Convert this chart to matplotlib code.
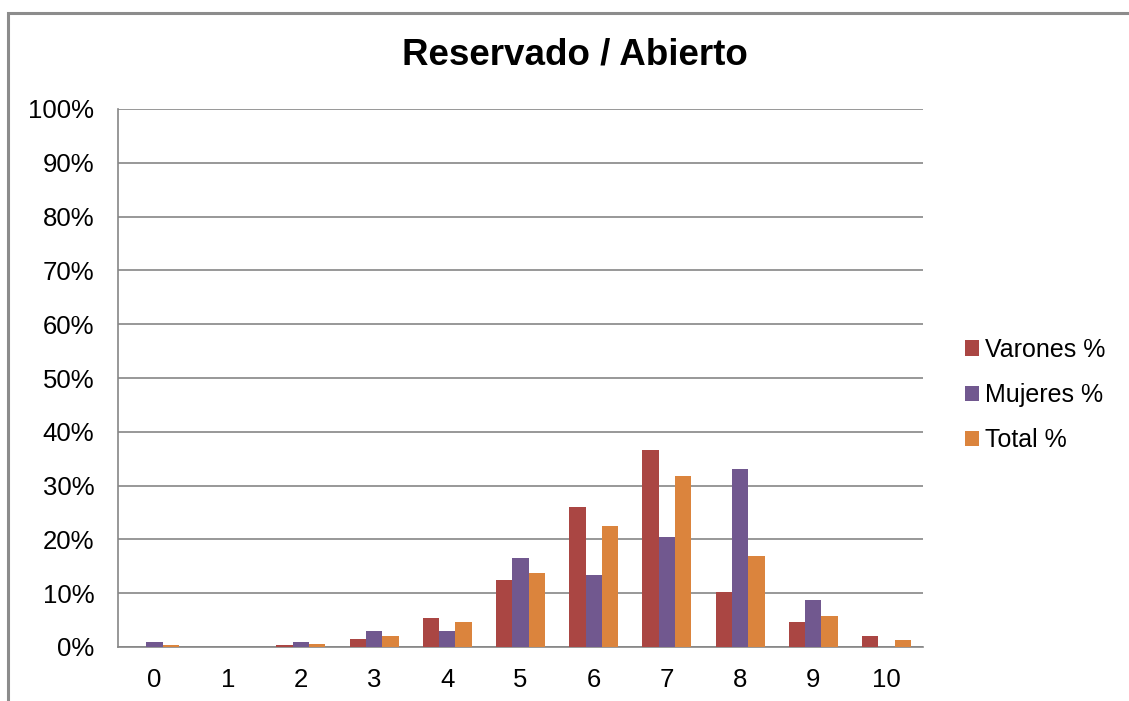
import matplotlib
matplotlib.use("Agg")
import matplotlib.pyplot as plt
import numpy as np
from matplotlib.patches import Rectangle, Patch
from matplotlib.ticker import FuncFormatter

categories = ["0", "1", "2", "3", "4", "5", "6", "7", "8", "9", "10"]
varones = [0.0, 0.0, 0.3, 1.5, 5.3, 12.5, 26.1, 36.6, 10.3, 4.6, 2.0]
mujeres = [0.85, 0.0, 0.85, 2.95, 2.95, 16.5, 13.4, 20.4, 33.0, 8.7, 0.0]
total = [0.3, 0.0, 0.55, 2.0, 4.6, 13.7, 22.5, 31.8, 17.0, 5.8, 1.25]
series_names = ["Varones %", "Mujeres %", "Total %"]
colors = ["#AA4643", "#71588F", "#DB843D"]

plt.rcParams["font.family"] = ["Liberation Sans", "DejaVu Sans"]

W, H = 1129, 701
fig = plt.figure(figsize=(W / 100, H / 100), dpi=100)
fig.patch.set_facecolor("white")

# outer chart border
fig.patches.append(Rectangle((8 / W, -0.1), 1.2, 1 + 0.1 - 13 / H,
                             transform=fig.transFigure, fill=False,
                             edgecolor="#8c8c8c", linewidth=2.2))

ax = fig.add_axes([118 / W, (H - 647) / H, 805 / W, 538 / H])
x = np.arange(len(categories))
bw = 0.223
for i, (vals, c, name) in enumerate(zip([varones, mujeres, total], colors, series_names)):
    ax.bar(x + (i - 1) * bw, vals, width=bw, color=c, label=name, zorder=3)

ax.set_xlim(-0.5, len(categories) - 0.5)
ax.set_ylim(0, 100)
ax.set_yticks(np.arange(0, 101, 10))
ax.yaxis.set_major_formatter(FuncFormatter(lambda v, p: f"{v:.0f}%"))
ax.set_xticks(x)
ax.set_xticklabels(categories)
ax.tick_params(axis="both", length=0, labelsize=18.5, colors="black")
ax.tick_params(axis="x", pad=15)
ax.tick_params(axis="y", pad=17)
ax.grid(axis="y", color="#868686", linewidth=1.2, zorder=0)
for s in ["top", "right"]:
    ax.spines[s].set_visible(False)
for s in ["left", "bottom"]:
    ax.spines[s].set_color("#868686")
    ax.spines[s].set_linewidth(1.2)

fig.text(575 / W, 1 - 55 / H, "Reservado / Abierto", ha="center", va="center",
         fontsize=26.5, fontweight="bold")

handles = [Patch(facecolor=c, edgecolor="none") for c in colors]
fig.legend(handles, series_names, loc="center left",
           bbox_to_anchor=(942 / W, 1 - 395 / H), frameon=False,
           fontsize=18, handlelength=0.56, handleheight=0.56,
           handletextpad=0.25, labelspacing=0.85)

fig.savefig("out.png", dpi=100)
